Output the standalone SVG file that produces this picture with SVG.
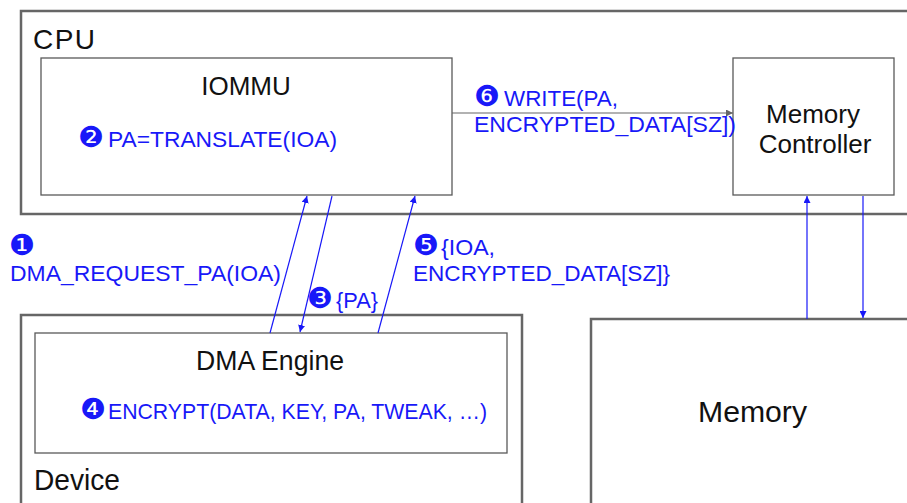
<svg xmlns="http://www.w3.org/2000/svg" width="907" height="503" viewBox="0 0 907 503">
  <defs>
    <style>
      .outer { fill: #ffffff; stroke: #666666; stroke-width: 2.5; }
      .box { fill: #ffffff; stroke: #595959; stroke-width: 1.3; }
      .lbl { font-family: "Liberation Sans", Arial, sans-serif; fill: #111111; }
      .step { font-family: "Liberation Sans", Arial, sans-serif; fill: #1818f8; font-size: 22px; }
      .num { font-family: "DejaVu Sans", sans-serif; fill: #1818f8; font-size: 29px; }
      .flow { stroke: #1818f8; stroke-width: 1.2; fill: none; marker-end: url(#blueHead); }
      .gray { stroke: #666666; stroke-width: 1.2; fill: none; marker-end: url(#grayHead); }
    </style>
    <marker id="blueHead" viewBox="0 0 10 10" refX="10" refY="5" markerWidth="7" markerHeight="7" markerUnits="userSpaceOnUse" orient="auto">
      <path d="M0,0 L10,5 L0,10 z" fill="#1818f8"/>
    </marker>
    <marker id="grayHead" viewBox="0 0 10 10" refX="10" refY="5" markerWidth="8" markerHeight="7" markerUnits="userSpaceOnUse" orient="auto">
      <path d="M0,0 L10,5 L0,10 z" fill="#666666"/>
    </marker>
  </defs>

  <rect width="907" height="503" fill="#ffffff"/>

  <!-- CPU package -->
  <g id="cpu">
    <rect class="outer" x="21" y="11" width="900" height="203"/>
    <text class="lbl" x="33" y="49" font-size="28" textLength="62">CPU</text>
  </g>

  <!-- IOMMU -->
  <g id="iommu">
    <rect class="box" x="41" y="58" width="411" height="137"/>
    <text class="lbl" x="246" y="95" font-size="26" text-anchor="middle">IOMMU</text>
    <text x="78" y="147"><tspan class="num">❷</tspan><tspan class="step" x="108" y="147" textLength="229" lengthAdjust="spacingAndGlyphs">PA=TRANSLATE(IOA)</tspan></text>
  </g>

  <!-- Memory controller -->
  <g id="memctrl">
    <rect class="box" x="733" y="58" width="161" height="137"/>
    <text class="lbl" x="813" y="123" font-size="26" text-anchor="middle">Memory</text>
    <text class="lbl" x="815" y="153" font-size="26" text-anchor="middle">Controller</text>
  </g>

  <!-- Device -->
  <g id="device">
    <rect class="outer" x="21" y="315" width="501" height="200"/>
    <text class="lbl" x="34" y="490" font-size="29" textLength="86" lengthAdjust="spacingAndGlyphs">Device</text>
  </g>

  <!-- DMA engine -->
  <g id="dma">
    <rect class="box" x="35" y="333" width="472" height="120"/>
    <text class="lbl" x="196" y="370" font-size="27" textLength="148" lengthAdjust="spacingAndGlyphs">DMA Engine</text>
    <text x="80" y="419"><tspan class="num">❹</tspan><tspan class="step" x="108" y="419" textLength="379" lengthAdjust="spacingAndGlyphs">ENCRYPT(DATA, KEY, PA, TWEAK, …)</tspan></text>
  </g>

  <!-- Memory -->
  <g id="memory">
    <rect class="outer" x="591" y="319" width="330" height="200"/>
    <text class="lbl" x="698" y="422" font-size="29" textLength="109" lengthAdjust="spacingAndGlyphs">Memory</text>
  </g>

  <!-- Connectors -->
  <g id="connectors">
    <line class="flow" x1="270" y1="333" x2="307" y2="196"/>
    <line class="flow" x1="332" y1="196" x2="300" y2="332"/>
    <line class="flow" x1="378" y1="333" x2="415" y2="196"/>
    <line class="gray" x1="452" y1="113" x2="733" y2="113"/>
    <line class="flow" x1="807" y1="319" x2="807" y2="196"/>
    <line class="flow" x1="863" y1="196" x2="863" y2="318"/>
  </g>

  <!-- Step labels on connectors -->
  <g id="labels">
    <text class="num" x="9" y="255">❶</text>
    <text class="step" x="10" y="281" textLength="271" lengthAdjust="spacingAndGlyphs">DMA_REQUEST_PA(IOA)</text>
    <text x="307" y="308"><tspan class="num">❸</tspan><tspan class="step" x="336" y="308" textLength="42" lengthAdjust="spacingAndGlyphs">{PA}</tspan></text>
    <text x="413" y="255"><tspan class="num">❺</tspan><tspan class="step" x="441" y="255" textLength="54" lengthAdjust="spacingAndGlyphs">{IOA,</tspan></text>
    <text class="step" x="413" y="281" textLength="257" lengthAdjust="spacingAndGlyphs">ENCRYPTED_DATA[SZ]}</text>
    <text x="474" y="106"><tspan class="num">❻</tspan><tspan class="step" x="504" y="106" textLength="114" lengthAdjust="spacingAndGlyphs">WRITE(PA,</tspan></text>
    <text class="step" x="474" y="132" textLength="262" lengthAdjust="spacingAndGlyphs">ENCRYPTED_DATA[SZ])</text>
  </g>
</svg>
